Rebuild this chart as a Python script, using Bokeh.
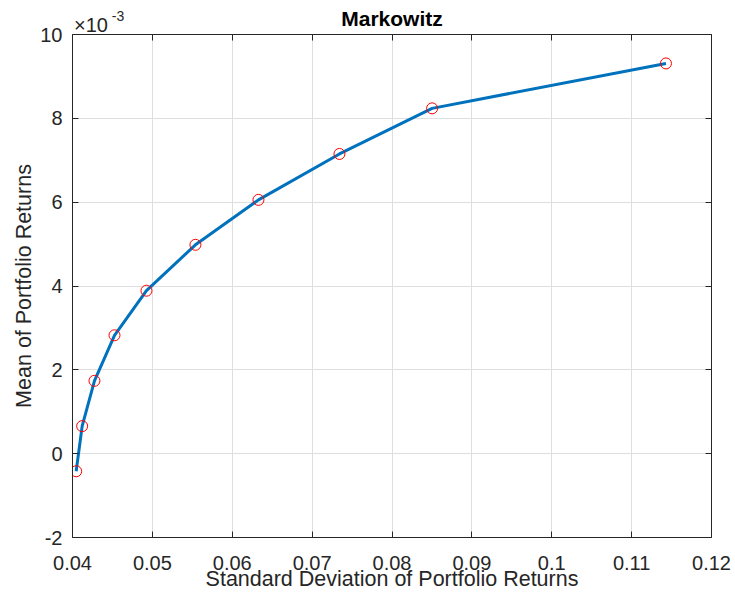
from bokeh.plotting import figure
from bokeh.models import Range1d, LinearAxis, FixedTicker, CustomJSTickFormatter
from bokeh.embed import file_html
from bokeh.resources import INLINE

# Data (mean in units of 1e-3)
std_returns = [0.04046, 0.04121, 0.04275, 0.04526, 0.04926, 0.05539, 0.06328, 0.07342, 0.08502, 0.1143]
mean_returns_e3 = [-0.42, 0.657, 1.738, 2.824, 3.888, 4.983, 6.055, 7.15, 8.238, 9.31]

x_ticks = [0.04, 0.05, 0.06, 0.07, 0.08, 0.09, 0.10, 0.11, 0.12]
x_tick_labels = ["0.04", "0.05", "0.06", "0.07", "0.08", "0.09", "0.1", "0.11", "0.12"]
y_ticks = [-2, 0, 2, 4, 6, 8, 10]
y_tick_labels = ["-2", "0", "2", "4", "6", "8", "10"]

title_text = "Markowitz"
exp_base_text = "×10"
exp_power_text = "-3"
EXP_BASE_X = 0.04232   # horizontal anchors of the exponent texts
EXP_POWER_X = 0.04570

FONT = "Liberation Sans"
AX = "#262626"

W, H = 735, 606
BL, BT, BR, BB = 72, 34, 24, 69

p = figure(width=W, height=H, title=None,
           x_range=Range1d(0.04, 0.12), y_range=Range1d(-2, 10),
           output_backend="svg", toolbar_location=None,
           min_border_left=BL, min_border_top=BT,
           min_border_right=BR, min_border_bottom=BB)
p.outline_line_color = None
p.background_fill_color = "white"
p.border_fill_color = "white"

xt = FixedTicker(ticks=x_ticks)
yt = FixedTicker(ticks=y_ticks)

def style_axis(ax, ticker, labels, ticks, show_labels=True):
    ax.ticker = ticker
    ax.axis_line_color = AX
    ax.axis_line_width = 1
    ax.major_tick_line_color = AX
    ax.major_tick_in = 6
    ax.major_tick_out = 0
    ax.minor_tick_line_color = None
    ax.major_label_text_font = FONT
    ax.major_label_text_color = AX
    ax.major_label_text_font_size = "20px"
    if show_labels:
        ax.major_label_overrides = {t: l for t, l in zip(ticks, labels)}
    else:
        ax.formatter = CustomJSTickFormatter(code="return ''")
        ax.major_label_standoff = 0
    ax.axis_label_text_font = FONT
    ax.axis_label_text_font_size = "21.5px"
    ax.axis_label_text_font_style = "normal"
    ax.axis_label_text_color = AX

style_axis(p.xaxis[0], xt, x_tick_labels, x_ticks)
style_axis(p.yaxis[0], yt, y_tick_labels, y_ticks)
p.xaxis[0].axis_label = "Standard Deviation of Portfolio Returns"
p.yaxis[0].axis_label = "Mean of Portfolio Returns"
p.xaxis[0].major_label_standoff = 18
p.xaxis[0].axis_label_standoff = -6
p.yaxis[0].major_label_standoff = 10
p.yaxis[0].axis_label_standoff = 1

# box: top and right axes with inward ticks, no labels
top_ax = LinearAxis()
right_ax = LinearAxis()
style_axis(top_ax, xt, x_tick_labels, x_ticks, show_labels=False)
style_axis(right_ax, yt, y_tick_labels, y_ticks, show_labels=False)
p.add_layout(top_ax, "above")
p.add_layout(right_ax, "right")

def text_axis(tick, label, size, standoff):
    ax = LinearAxis(ticker=FixedTicker(ticks=[tick]), major_label_overrides={tick: label})
    ax.axis_line_color = None
    ax.major_tick_line_color = None
    ax.major_tick_in = 0
    ax.major_tick_out = 0
    ax.minor_tick_line_color = None
    ax.major_label_standoff = standoff
    ax.major_label_text_font = FONT
    ax.major_label_text_font_size = size
    ax.major_label_text_color = AX
    return ax

# "×10" exponent base
exp_ax = text_axis(EXP_BASE_X, exp_base_text, "20px", -1)
p.add_layout(exp_ax, "above")

# superscript "-3" and the bold title
ttl_ax = text_axis(EXP_POWER_X, exp_power_text, "14px", -10)
ttl_ax.axis_label = title_text
ttl_ax.axis_label_text_font = FONT
ttl_ax.axis_label_text_font_size = "21px"
ttl_ax.axis_label_text_font_style = "bold"
ttl_ax.axis_label_text_color = "#000000"
ttl_ax.axis_label_standoff = -22
p.add_layout(ttl_ax, "above")

p.xgrid.ticker = xt
p.ygrid.ticker = yt
p.xgrid.grid_line_color = "#DFDFDF"
p.ygrid.grid_line_color = "#DFDFDF"

p.line(std_returns, mean_returns_e3, line_width=3, line_color="#0072BD", line_join="round")
p.scatter(std_returns, mean_returns_e3, marker="circle", size=11,
          fill_color=None, line_color="#FF0000", line_width=1)

open("out.html", "w").write(file_html(p, INLINE))
